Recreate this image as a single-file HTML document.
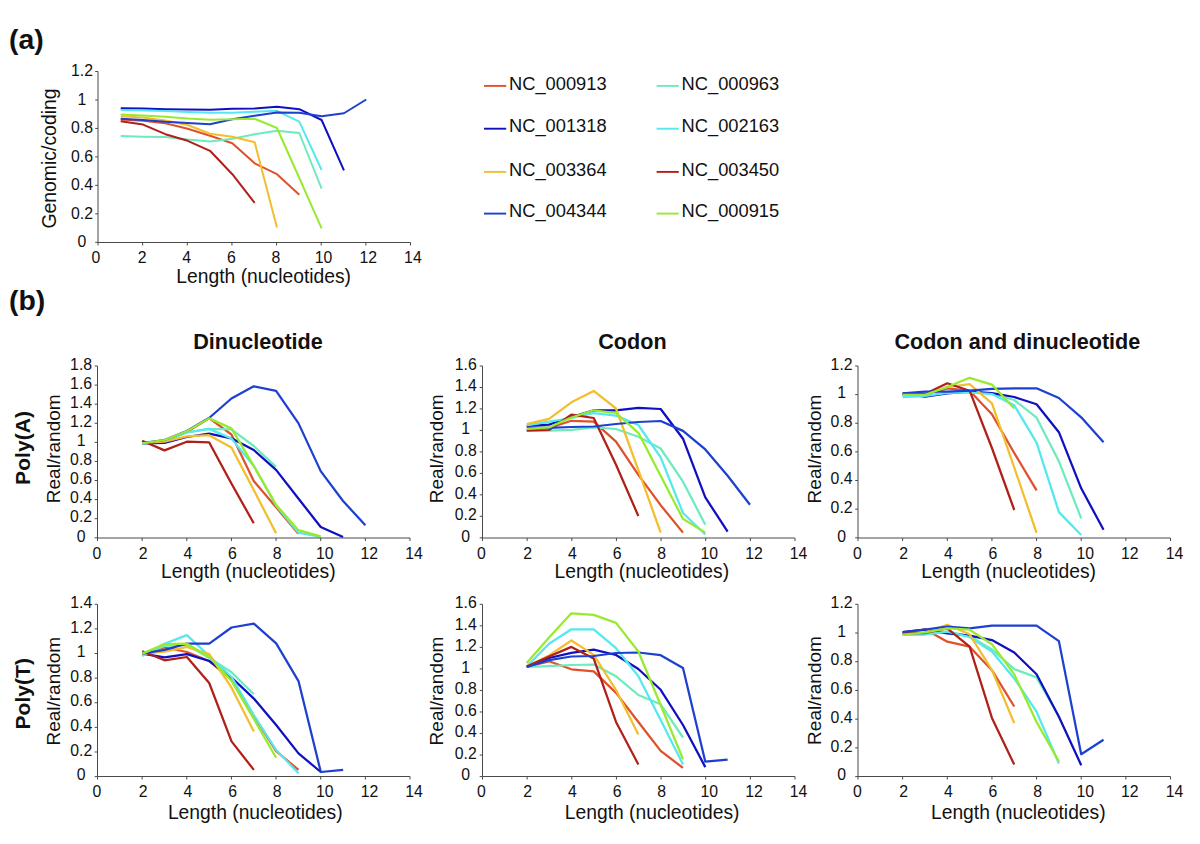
<!DOCTYPE html><html><head><meta charset="utf-8"><style>html,body{margin:0;padding:0;background:#fff;width:1200px;height:844px;overflow:hidden}svg{display:block}text{font-family:"Liberation Sans",sans-serif;fill:#111}</style></head><body>
<svg width="1200" height="844" viewBox="0 0 1200 844">
<rect width="1200" height="844" fill="#fff"/>
<polyline points="120.72,119.60 143.04,120.80 165.36,123.30 187.69,128.75 210.01,135.80 232.33,143.30 254.65,163.30 276.97,174.20 299.29,194.70" fill="none" stroke="#E0502A" stroke-width="2.0" stroke-linejoin="round"/>
<polyline points="120.72,136.00 143.04,136.70 165.36,137.00 187.69,139.60 210.01,141.50 232.33,138.75 254.65,134.20 276.97,130.80 299.29,133.00 321.61,188.70" fill="none" stroke="#6EEBBE" stroke-width="2.0" stroke-linejoin="round"/>
<polyline points="120.72,108.30 143.04,108.60 165.36,109.20 187.69,109.60 210.01,109.80 232.33,108.75 254.65,108.50 276.97,106.70 299.29,109.20 321.61,120.00 343.94,170.30" fill="none" stroke="#1010C0" stroke-width="2.0" stroke-linejoin="round"/>
<polyline points="120.72,110.00 143.04,110.40 165.36,111.00 187.69,112.00 210.01,112.70 232.33,112.70 254.65,111.70 276.97,110.80 299.29,121.70 321.61,170.00" fill="none" stroke="#55E8EE" stroke-width="2.0" stroke-linejoin="round"/>
<polyline points="120.72,116.25 143.04,117.50 165.36,120.50 187.69,125.00 210.01,133.75 232.33,136.70 254.65,142.30 276.97,227.50" fill="none" stroke="#F2BE2E" stroke-width="2.0" stroke-linejoin="round"/>
<polyline points="120.72,121.25 143.04,124.60 165.36,134.20 187.69,140.80 210.01,150.80 232.33,174.20 254.65,202.80" fill="none" stroke="#B02018" stroke-width="2.0" stroke-linejoin="round"/>
<polyline points="120.72,118.75 143.04,120.00 165.36,121.80 187.69,122.90 210.01,124.20 232.33,119.20 254.65,115.80 276.97,112.50 299.29,112.70 321.61,116.25 343.94,113.25 366.26,99.50" fill="none" stroke="#1E40D0" stroke-width="2.0" stroke-linejoin="round"/>
<polyline points="120.72,114.60 143.04,115.40 165.36,116.70 187.69,118.50 210.01,119.80 232.33,119.20 254.65,118.75 276.97,128.00 299.29,178.00 321.61,228.30" fill="none" stroke="#98EA30" stroke-width="2.0" stroke-linejoin="round"/>
<path d="M98.00 71.50V242.50H410.50M95.20 242.30H98.00M95.20 213.83H98.00M95.20 185.37H98.00M95.20 156.90H98.00M95.20 128.43H98.00M95.20 99.97H98.00M95.20 71.50H98.00M98.00 242.50V245.50M142.64 242.50V245.50M187.29 242.50V245.50M231.93 242.50V245.50M276.57 242.50V245.50M321.21 242.50V245.50M365.86 242.50V245.50M410.50 242.50V245.50" stroke="#4a4a4a" stroke-width="1" fill="none"/>
<text x="82.00" y="247.00" text-anchor="middle" font-size="15.8">0</text>
<text x="82.00" y="218.53" text-anchor="middle" font-size="15.8">0.2</text>
<text x="82.00" y="190.07" text-anchor="middle" font-size="15.8">0.4</text>
<text x="82.00" y="161.60" text-anchor="middle" font-size="15.8">0.6</text>
<text x="82.00" y="133.13" text-anchor="middle" font-size="15.8">0.8</text>
<text x="82.00" y="104.67" text-anchor="middle" font-size="15.8">1</text>
<text x="82.00" y="76.20" text-anchor="middle" font-size="15.8">1.2</text>
<text x="95.80" y="263.00" text-anchor="middle" font-size="15.8">0</text>
<text x="142.04" y="263.00" text-anchor="middle" font-size="15.8">2</text>
<text x="186.69" y="263.00" text-anchor="middle" font-size="15.8">4</text>
<text x="231.33" y="263.00" text-anchor="middle" font-size="15.8">6</text>
<text x="275.97" y="263.00" text-anchor="middle" font-size="15.8">8</text>
<text x="323.61" y="263.00" text-anchor="middle" font-size="15.8">10</text>
<text x="368.26" y="263.00" text-anchor="middle" font-size="15.8">12</text>
<text x="412.90" y="263.00" text-anchor="middle" font-size="15.8">14</text>
<polyline points="142.14,443.00 164.46,441.00 186.79,432.00 209.11,418.20 231.43,434.50 253.75,481.00 276.07,507.20 298.39,533.90" fill="none" stroke="#E0502A" stroke-width="2.25" stroke-linejoin="round"/>
<polyline points="142.14,443.30 164.46,440.80 186.79,432.50 209.11,428.90 231.43,429.30 253.75,446.00 276.07,466.70" fill="none" stroke="#6EEBBE" stroke-width="2.25" stroke-linejoin="round"/>
<polyline points="142.14,443.30 164.46,442.90 186.79,437.00 209.11,433.60 231.43,438.30 253.75,450.00 276.07,469.90 298.39,498.50 320.71,527.00 343.04,537.00" fill="none" stroke="#1010C0" stroke-width="2.25" stroke-linejoin="round"/>
<polyline points="142.14,443.30 164.46,440.50 186.79,432.50 209.11,428.90 231.43,438.50 253.75,466.00 276.07,505.50 298.39,532.70 320.71,537.00" fill="none" stroke="#55E8EE" stroke-width="2.25" stroke-linejoin="round"/>
<polyline points="142.14,443.00 164.46,441.70 186.79,436.30 209.11,435.20 231.43,447.50 253.75,490.00 276.07,533.30" fill="none" stroke="#F2BE2E" stroke-width="2.25" stroke-linejoin="round"/>
<polyline points="142.14,440.80 164.46,450.40 186.79,441.70 209.11,442.30 231.43,483.50 253.75,523.30" fill="none" stroke="#B02018" stroke-width="2.25" stroke-linejoin="round"/>
<polyline points="142.14,443.00 164.46,440.00 186.79,431.00 209.11,418.00 231.43,398.50 253.75,386.30 276.07,390.80 298.39,423.10 320.71,471.10 343.04,501.00 365.36,525.20" fill="none" stroke="#1E40D0" stroke-width="2.25" stroke-linejoin="round"/>
<polyline points="142.14,443.30 164.46,440.00 186.79,431.25 209.11,418.40 231.43,428.40 253.75,465.80 276.07,504.70 298.39,530.20 320.71,536.40" fill="none" stroke="#98EA30" stroke-width="2.25" stroke-linejoin="round"/>
<path d="M97.50 366.00V538.00H410.00M94.70 537.80H97.50M94.70 518.71H97.50M94.70 499.62H97.50M94.70 480.53H97.50M94.70 461.44H97.50M94.70 442.36H97.50M94.70 423.27H97.50M94.70 404.18H97.50M94.70 385.09H97.50M94.70 366.00H97.50M97.50 538.00V541.00M142.14 538.00V541.00M186.79 538.00V541.00M231.43 538.00V541.00M276.07 538.00V541.00M320.71 538.00V541.00M365.36 538.00V541.00M410.00 538.00V541.00" stroke="#4a4a4a" stroke-width="1" fill="none"/>
<text x="81.10" y="541.50" text-anchor="middle" font-size="15.8">0</text>
<text x="81.10" y="522.41" text-anchor="middle" font-size="15.8">0.2</text>
<text x="81.10" y="503.32" text-anchor="middle" font-size="15.8">0.4</text>
<text x="81.10" y="484.23" text-anchor="middle" font-size="15.8">0.6</text>
<text x="81.10" y="465.14" text-anchor="middle" font-size="15.8">0.8</text>
<text x="81.10" y="446.06" text-anchor="middle" font-size="15.8">1</text>
<text x="81.10" y="426.97" text-anchor="middle" font-size="15.8">1.2</text>
<text x="81.10" y="407.88" text-anchor="middle" font-size="15.8">1.4</text>
<text x="81.10" y="388.79" text-anchor="middle" font-size="15.8">1.6</text>
<text x="81.10" y="369.70" text-anchor="middle" font-size="15.8">1.8</text>
<text x="96.90" y="558.50" text-anchor="middle" font-size="15.8">0</text>
<text x="143.14" y="558.50" text-anchor="middle" font-size="15.8">2</text>
<text x="187.79" y="558.50" text-anchor="middle" font-size="15.8">4</text>
<text x="232.43" y="558.50" text-anchor="middle" font-size="15.8">6</text>
<text x="277.07" y="558.50" text-anchor="middle" font-size="15.8">8</text>
<text x="324.71" y="558.50" text-anchor="middle" font-size="15.8">10</text>
<text x="369.36" y="558.50" text-anchor="middle" font-size="15.8">12</text>
<text x="414.00" y="558.50" text-anchor="middle" font-size="15.8">14</text>
<polyline points="526.74,430.00 549.06,428.00 571.39,420.80 593.71,421.70 616.03,441.60 638.35,474.90 660.67,505.20 682.99,532.60" fill="none" stroke="#E0502A" stroke-width="2.25" stroke-linejoin="round"/>
<polyline points="526.74,430.50 549.06,430.70 571.39,429.80 593.71,427.40 616.03,429.00 638.35,436.70 660.67,448.50 682.99,481.70 705.31,524.70" fill="none" stroke="#6EEBBE" stroke-width="2.25" stroke-linejoin="round"/>
<polyline points="526.74,426.00 549.06,424.60 571.39,417.00 593.71,410.30 616.03,410.30 638.35,407.80 660.67,409.00 682.99,438.70 705.31,497.40 727.64,531.60" fill="none" stroke="#1010C0" stroke-width="2.25" stroke-linejoin="round"/>
<polyline points="526.74,425.50 549.06,421.70 571.39,418.00 593.71,413.20 616.03,415.60 638.35,425.00 660.67,457.30 682.99,513.00 705.31,534.50" fill="none" stroke="#55E8EE" stroke-width="2.25" stroke-linejoin="round"/>
<polyline points="526.74,424.10 549.06,418.90 571.39,402.30 593.71,390.90 616.03,408.50 638.35,470.20 660.67,532.60" fill="none" stroke="#F2BE2E" stroke-width="2.25" stroke-linejoin="round"/>
<polyline points="526.74,430.70 549.06,430.00 571.39,414.60 593.71,418.00 616.03,464.70 638.35,516.00" fill="none" stroke="#B02018" stroke-width="2.25" stroke-linejoin="round"/>
<polyline points="526.74,427.00 549.06,427.90 571.39,427.00 593.71,426.50 616.03,424.00 638.35,422.00 660.67,421.00 682.99,430.90 705.31,449.40 727.64,475.80 749.96,504.80" fill="none" stroke="#1E40D0" stroke-width="2.25" stroke-linejoin="round"/>
<polyline points="526.74,428.80 549.06,427.40 571.39,417.50 593.71,410.30 616.03,413.00 638.35,432.80 660.67,475.80 682.99,518.90 705.31,532.60" fill="none" stroke="#98EA30" stroke-width="2.25" stroke-linejoin="round"/>
<path d="M482.50 366.00V538.00H795.00M479.70 537.80H482.50M479.70 516.32H482.50M479.70 494.85H482.50M479.70 473.38H482.50M479.70 451.90H482.50M479.70 430.42H482.50M479.70 408.95H482.50M479.70 387.48H482.50M479.70 366.00H482.50M482.50 538.00V541.00M527.14 538.00V541.00M571.79 538.00V541.00M616.43 538.00V541.00M661.07 538.00V541.00M705.71 538.00V541.00M750.36 538.00V541.00M795.00 538.00V541.00" stroke="#4a4a4a" stroke-width="1" fill="none"/>
<text x="465.70" y="541.50" text-anchor="middle" font-size="15.8">0</text>
<text x="465.70" y="520.02" text-anchor="middle" font-size="15.8">0.2</text>
<text x="465.70" y="498.55" text-anchor="middle" font-size="15.8">0.4</text>
<text x="465.70" y="477.07" text-anchor="middle" font-size="15.8">0.6</text>
<text x="465.70" y="455.60" text-anchor="middle" font-size="15.8">0.8</text>
<text x="465.70" y="434.12" text-anchor="middle" font-size="15.8">1</text>
<text x="465.70" y="412.65" text-anchor="middle" font-size="15.8">1.2</text>
<text x="465.70" y="391.18" text-anchor="middle" font-size="15.8">1.4</text>
<text x="465.70" y="369.70" text-anchor="middle" font-size="15.8">1.6</text>
<text x="481.50" y="558.50" text-anchor="middle" font-size="15.8">0</text>
<text x="527.74" y="558.50" text-anchor="middle" font-size="15.8">2</text>
<text x="572.39" y="558.50" text-anchor="middle" font-size="15.8">4</text>
<text x="617.03" y="558.50" text-anchor="middle" font-size="15.8">6</text>
<text x="661.67" y="558.50" text-anchor="middle" font-size="15.8">8</text>
<text x="709.31" y="558.50" text-anchor="middle" font-size="15.8">10</text>
<text x="753.96" y="558.50" text-anchor="middle" font-size="15.8">12</text>
<text x="798.60" y="558.50" text-anchor="middle" font-size="15.8">14</text>
<polyline points="902.64,394.50 924.96,394.50 947.29,388.40 969.61,390.70 991.93,414.30 1014.25,453.00 1036.57,490.30" fill="none" stroke="#E0502A" stroke-width="2.25" stroke-linejoin="round"/>
<polyline points="902.64,396.00 924.96,396.00 947.29,392.50 969.61,392.00 991.93,394.00 1014.25,400.00 1036.57,417.70 1058.89,461.30 1081.21,518.30" fill="none" stroke="#6EEBBE" stroke-width="2.25" stroke-linejoin="round"/>
<polyline points="902.64,393.40 924.96,396.60 947.29,393.40 969.61,391.60 991.93,393.10 1014.25,397.00 1036.57,404.20 1058.89,432.20 1081.21,488.30 1103.54,529.80" fill="none" stroke="#1010C0" stroke-width="2.25" stroke-linejoin="round"/>
<polyline points="902.64,397.10 924.96,396.00 947.29,393.00 969.61,392.50 991.93,394.00 1014.25,405.30 1036.57,442.60 1058.89,512.10 1081.21,535.00" fill="none" stroke="#55E8EE" stroke-width="2.25" stroke-linejoin="round"/>
<polyline points="902.64,394.50 924.96,394.50 947.29,387.00 969.61,384.20 991.93,403.30 1014.25,467.50 1036.57,532.90" fill="none" stroke="#F2BE2E" stroke-width="2.25" stroke-linejoin="round"/>
<polyline points="902.64,394.00 924.96,394.00 947.29,383.30 969.61,390.70 991.93,448.00 1014.25,510.00" fill="none" stroke="#B02018" stroke-width="2.25" stroke-linejoin="round"/>
<polyline points="902.64,393.40 924.96,391.60 947.29,391.60 969.61,390.70 991.93,388.80 1014.25,388.30 1036.57,388.30 1058.89,398.00 1081.21,417.30 1103.54,442.20" fill="none" stroke="#1E40D0" stroke-width="2.25" stroke-linejoin="round"/>
<polyline points="902.64,394.80 924.96,394.80 947.29,387.00 969.61,377.80 991.93,384.60 1014.25,408.40" fill="none" stroke="#98EA30" stroke-width="2.25" stroke-linejoin="round"/>
<path d="M858.00 366.00V538.00H1170.50M855.20 537.80H858.00M855.20 509.17H858.00M855.20 480.53H858.00M855.20 451.90H858.00M855.20 423.27H858.00M855.20 394.63H858.00M855.20 366.00H858.00M858.00 538.00V541.00M902.64 538.00V541.00M947.29 538.00V541.00M991.93 538.00V541.00M1036.57 538.00V541.00M1081.21 538.00V541.00M1125.86 538.00V541.00M1170.50 538.00V541.00" stroke="#4a4a4a" stroke-width="1" fill="none"/>
<text x="841.60" y="541.50" text-anchor="middle" font-size="15.8">0</text>
<text x="841.60" y="512.87" text-anchor="middle" font-size="15.8">0.2</text>
<text x="841.60" y="484.23" text-anchor="middle" font-size="15.8">0.4</text>
<text x="841.60" y="455.60" text-anchor="middle" font-size="15.8">0.6</text>
<text x="841.60" y="426.97" text-anchor="middle" font-size="15.8">0.8</text>
<text x="841.60" y="398.33" text-anchor="middle" font-size="15.8">1</text>
<text x="841.60" y="369.70" text-anchor="middle" font-size="15.8">1.2</text>
<text x="857.40" y="558.50" text-anchor="middle" font-size="15.8">0</text>
<text x="903.64" y="558.50" text-anchor="middle" font-size="15.8">2</text>
<text x="948.29" y="558.50" text-anchor="middle" font-size="15.8">4</text>
<text x="992.93" y="558.50" text-anchor="middle" font-size="15.8">6</text>
<text x="1037.57" y="558.50" text-anchor="middle" font-size="15.8">8</text>
<text x="1085.21" y="558.50" text-anchor="middle" font-size="15.8">10</text>
<text x="1129.86" y="558.50" text-anchor="middle" font-size="15.8">12</text>
<text x="1174.50" y="558.50" text-anchor="middle" font-size="15.8">14</text>
<polyline points="142.24,653.00 164.56,647.50 186.89,652.00 209.21,661.00 231.53,680.00 253.85,716.00 276.17,751.20 298.49,769.90" fill="none" stroke="#E0502A" stroke-width="2.25" stroke-linejoin="round"/>
<polyline points="142.24,654.50 164.56,646.00 186.89,645.00 209.21,658.00 231.53,672.30 253.85,694.20" fill="none" stroke="#6EEBBE" stroke-width="2.25" stroke-linejoin="round"/>
<polyline points="142.24,653.60 164.56,657.40 186.89,654.10 209.21,661.00 231.53,677.50 253.85,698.60 276.17,725.00 298.49,753.40 320.81,772.00" fill="none" stroke="#1010C0" stroke-width="2.25" stroke-linejoin="round"/>
<polyline points="142.24,656.00 164.56,643.70 186.89,635.10 209.21,656.00 231.53,677.00 253.85,715.00 276.17,750.00 298.49,773.20" fill="none" stroke="#55E8EE" stroke-width="2.25" stroke-linejoin="round"/>
<polyline points="142.24,653.60 164.56,651.70 186.89,647.00 209.21,654.10 231.53,687.70 253.85,731.50" fill="none" stroke="#F2BE2E" stroke-width="2.25" stroke-linejoin="round"/>
<polyline points="142.24,651.30 164.56,660.30 186.89,657.00 209.21,683.00 231.53,741.40 253.85,769.90" fill="none" stroke="#B02018" stroke-width="2.25" stroke-linejoin="round"/>
<polyline points="142.24,653.60 164.56,649.80 186.89,643.70 209.21,643.70 231.53,627.50 253.85,623.70 276.17,643.40 298.49,681.10 320.81,772.00 343.14,769.90" fill="none" stroke="#1E40D0" stroke-width="2.25" stroke-linejoin="round"/>
<polyline points="142.24,653.60 164.56,644.10 186.89,643.70 209.21,657.00 231.53,681.00 253.85,719.00 276.17,757.80" fill="none" stroke="#98EA30" stroke-width="2.25" stroke-linejoin="round"/>
<path d="M97.50 604.30V776.50H410.00M94.70 776.60H97.50M94.70 751.99H97.50M94.70 727.37H97.50M94.70 702.76H97.50M94.70 678.14H97.50M94.70 653.53H97.50M94.70 628.91H97.50M94.70 604.30H97.50M97.50 776.50V779.50M142.14 776.50V779.50M186.79 776.50V779.50M231.43 776.50V779.50M276.07 776.50V779.50M320.71 776.50V779.50M365.36 776.50V779.50M410.00 776.50V779.50" stroke="#4a4a4a" stroke-width="1" fill="none"/>
<text x="81.20" y="780.30" text-anchor="middle" font-size="15.8">0</text>
<text x="81.20" y="755.69" text-anchor="middle" font-size="15.8">0.2</text>
<text x="81.20" y="731.07" text-anchor="middle" font-size="15.8">0.4</text>
<text x="81.20" y="706.46" text-anchor="middle" font-size="15.8">0.6</text>
<text x="81.20" y="681.84" text-anchor="middle" font-size="15.8">0.8</text>
<text x="81.20" y="657.23" text-anchor="middle" font-size="15.8">1</text>
<text x="81.20" y="632.61" text-anchor="middle" font-size="15.8">1.2</text>
<text x="81.20" y="608.00" text-anchor="middle" font-size="15.8">1.4</text>
<text x="97.00" y="797.30" text-anchor="middle" font-size="15.8">0</text>
<text x="143.24" y="797.30" text-anchor="middle" font-size="15.8">2</text>
<text x="187.89" y="797.30" text-anchor="middle" font-size="15.8">4</text>
<text x="232.53" y="797.30" text-anchor="middle" font-size="15.8">6</text>
<text x="277.17" y="797.30" text-anchor="middle" font-size="15.8">8</text>
<text x="324.81" y="797.30" text-anchor="middle" font-size="15.8">10</text>
<text x="369.46" y="797.30" text-anchor="middle" font-size="15.8">12</text>
<text x="414.10" y="797.30" text-anchor="middle" font-size="15.8">14</text>
<polyline points="526.74,666.60 549.06,661.30 571.39,669.30 593.71,671.40 616.03,692.90 638.35,722.00 660.67,750.90 682.99,767.90" fill="none" stroke="#E0502A" stroke-width="2.25" stroke-linejoin="round"/>
<polyline points="526.74,667.00 549.06,666.10 571.39,665.00 593.71,664.50 616.03,676.30 638.35,695.00 660.67,704.30 682.99,737.50" fill="none" stroke="#6EEBBE" stroke-width="2.25" stroke-linejoin="round"/>
<polyline points="526.74,667.00 549.06,658.00 571.39,652.80 593.71,649.60 616.03,655.00 638.35,669.00 660.67,689.80 682.99,725.00 705.31,767.10" fill="none" stroke="#1010C0" stroke-width="2.25" stroke-linejoin="round"/>
<polyline points="526.74,666.60 549.06,643.70 571.39,629.30 593.71,629.30 616.03,648.20 638.35,676.30 660.67,720.00 682.99,764.40" fill="none" stroke="#55E8EE" stroke-width="2.25" stroke-linejoin="round"/>
<polyline points="526.74,666.60 549.06,655.40 571.39,640.50 593.71,654.90 616.03,690.00 638.35,734.40" fill="none" stroke="#F2BE2E" stroke-width="2.25" stroke-linejoin="round"/>
<polyline points="526.74,666.60 549.06,656.50 571.39,646.90 593.71,658.60 616.03,721.90 638.35,764.40" fill="none" stroke="#B02018" stroke-width="2.25" stroke-linejoin="round"/>
<polyline points="526.74,667.00 549.06,660.20 571.39,656.50 593.71,656.00 616.03,653.00 638.35,652.50 660.67,655.20 682.99,668.00 705.31,761.70 727.64,759.60" fill="none" stroke="#1E40D0" stroke-width="2.25" stroke-linejoin="round"/>
<polyline points="526.74,662.90 549.06,637.50 571.39,613.30 593.71,614.90 616.03,622.90 638.35,651.50 660.67,705.00 682.99,759.20" fill="none" stroke="#98EA30" stroke-width="2.25" stroke-linejoin="round"/>
<path d="M482.50 604.30V776.50H795.00M479.70 776.60H482.50M479.70 755.06H482.50M479.70 733.52H482.50M479.70 711.99H482.50M479.70 690.45H482.50M479.70 668.91H482.50M479.70 647.38H482.50M479.70 625.84H482.50M479.70 604.30H482.50M482.50 776.50V779.50M527.14 776.50V779.50M571.79 776.50V779.50M616.43 776.50V779.50M661.07 776.50V779.50M705.71 776.50V779.50M750.36 776.50V779.50M795.00 776.50V779.50" stroke="#4a4a4a" stroke-width="1" fill="none"/>
<text x="465.70" y="780.30" text-anchor="middle" font-size="15.8">0</text>
<text x="465.70" y="758.76" text-anchor="middle" font-size="15.8">0.2</text>
<text x="465.70" y="737.23" text-anchor="middle" font-size="15.8">0.4</text>
<text x="465.70" y="715.69" text-anchor="middle" font-size="15.8">0.6</text>
<text x="465.70" y="694.15" text-anchor="middle" font-size="15.8">0.8</text>
<text x="465.70" y="672.61" text-anchor="middle" font-size="15.8">1</text>
<text x="465.70" y="651.08" text-anchor="middle" font-size="15.8">1.2</text>
<text x="465.70" y="629.54" text-anchor="middle" font-size="15.8">1.4</text>
<text x="465.70" y="608.00" text-anchor="middle" font-size="15.8">1.6</text>
<text x="481.50" y="797.30" text-anchor="middle" font-size="15.8">0</text>
<text x="527.74" y="797.30" text-anchor="middle" font-size="15.8">2</text>
<text x="572.39" y="797.30" text-anchor="middle" font-size="15.8">4</text>
<text x="617.03" y="797.30" text-anchor="middle" font-size="15.8">6</text>
<text x="661.67" y="797.30" text-anchor="middle" font-size="15.8">8</text>
<text x="709.31" y="797.30" text-anchor="middle" font-size="15.8">10</text>
<text x="753.96" y="797.30" text-anchor="middle" font-size="15.8">12</text>
<text x="798.60" y="797.30" text-anchor="middle" font-size="15.8">14</text>
<polyline points="902.64,633.50 924.96,629.30 947.29,641.70 969.61,646.70 991.93,670.20 1014.25,706.50" fill="none" stroke="#E0502A" stroke-width="2.25" stroke-linejoin="round"/>
<polyline points="902.64,634.50 924.96,634.30 947.29,631.60 969.61,636.00 991.93,649.40 1014.25,669.10 1036.57,677.40 1058.89,716.50" fill="none" stroke="#6EEBBE" stroke-width="2.25" stroke-linejoin="round"/>
<polyline points="902.64,632.00 924.96,629.70 947.29,633.40 969.61,635.70 991.93,640.10 1014.25,652.50 1036.57,674.30 1058.89,716.80 1081.21,765.20" fill="none" stroke="#1010C0" stroke-width="2.25" stroke-linejoin="round"/>
<polyline points="902.64,635.00 924.96,634.30 947.29,631.60 969.61,637.10 991.93,651.50 1014.25,678.50 1036.57,711.70 1058.89,763.50" fill="none" stroke="#55E8EE" stroke-width="2.25" stroke-linejoin="round"/>
<polyline points="902.64,633.50 924.96,632.00 947.29,624.70 969.61,634.30 991.93,670.00 1014.25,723.10" fill="none" stroke="#F2BE2E" stroke-width="2.25" stroke-linejoin="round"/>
<polyline points="902.64,633.00 924.96,633.00 947.29,628.40 969.61,646.70 991.93,717.90 1014.25,764.60" fill="none" stroke="#B02018" stroke-width="2.25" stroke-linejoin="round"/>
<polyline points="902.64,632.00 924.96,629.70 947.29,626.50 969.61,628.40 991.93,625.60 1014.25,625.60 1036.57,625.60 1058.89,641.10 1081.21,754.20 1103.54,739.70" fill="none" stroke="#1E40D0" stroke-width="2.25" stroke-linejoin="round"/>
<polyline points="902.64,634.50 924.96,632.50 947.29,628.40 969.61,629.70 991.93,644.20 1014.25,674.30 1036.57,722.00 1058.89,761.50" fill="none" stroke="#98EA30" stroke-width="2.25" stroke-linejoin="round"/>
<path d="M858.00 604.30V776.50H1170.50M855.20 776.60H858.00M855.20 747.88H858.00M855.20 719.17H858.00M855.20 690.45H858.00M855.20 661.73H858.00M855.20 633.02H858.00M855.20 604.30H858.00M858.00 776.50V779.50M902.64 776.50V779.50M947.29 776.50V779.50M991.93 776.50V779.50M1036.57 776.50V779.50M1081.21 776.50V779.50M1125.86 776.50V779.50M1170.50 776.50V779.50" stroke="#4a4a4a" stroke-width="1" fill="none"/>
<text x="841.60" y="780.30" text-anchor="middle" font-size="15.8">0</text>
<text x="841.60" y="751.58" text-anchor="middle" font-size="15.8">0.2</text>
<text x="841.60" y="722.87" text-anchor="middle" font-size="15.8">0.4</text>
<text x="841.60" y="694.15" text-anchor="middle" font-size="15.8">0.6</text>
<text x="841.60" y="665.43" text-anchor="middle" font-size="15.8">0.8</text>
<text x="841.60" y="636.72" text-anchor="middle" font-size="15.8">1</text>
<text x="841.60" y="608.00" text-anchor="middle" font-size="15.8">1.2</text>
<text x="857.40" y="797.30" text-anchor="middle" font-size="15.8">0</text>
<text x="903.64" y="797.30" text-anchor="middle" font-size="15.8">2</text>
<text x="948.29" y="797.30" text-anchor="middle" font-size="15.8">4</text>
<text x="992.93" y="797.30" text-anchor="middle" font-size="15.8">6</text>
<text x="1037.57" y="797.30" text-anchor="middle" font-size="15.8">8</text>
<text x="1085.21" y="797.30" text-anchor="middle" font-size="15.8">10</text>
<text x="1129.86" y="797.30" text-anchor="middle" font-size="15.8">12</text>
<text x="1174.50" y="797.30" text-anchor="middle" font-size="15.8">14</text>
<text x="9" y="48.8" font-size="28.4" font-weight="bold">(a)</text>
<text x="9" y="310.4" font-size="28.4" font-weight="bold">(b)</text>
<text x="258.05" y="348.70" text-anchor="middle" font-size="21.6" font-weight="bold">Dinucleotide</text>
<text x="632.45" y="348.70" text-anchor="middle" font-size="21.6" font-weight="bold">Codon</text>
<text x="1017.35" y="348.70" text-anchor="middle" font-size="21.6" font-weight="bold">Codon and dinucleotide</text>
<text x="263.70" y="283.20" text-anchor="middle" font-size="19.3">Length (nucleotides)</text>
<text x="248.30" y="578.30" text-anchor="middle" font-size="19.3">Length (nucleotides)</text>
<text x="641.80" y="578.30" text-anchor="middle" font-size="19.3">Length (nucleotides)</text>
<text x="1008.60" y="578.30" text-anchor="middle" font-size="19.3">Length (nucleotides)</text>
<text x="255.25" y="819.00" text-anchor="middle" font-size="19.3">Length (nucleotides)</text>
<text x="652.10" y="819.00" text-anchor="middle" font-size="19.3">Length (nucleotides)</text>
<text x="1018.30" y="819.00" text-anchor="middle" font-size="19.3">Length (nucleotides)</text>
<text transform="translate(55.80,158.50) rotate(-90)" x="0" y="0" text-anchor="middle" font-size="19.4">Genomic/coding</text>
<text transform="translate(59.70,448.80) rotate(-90)" x="0" y="0" text-anchor="middle" font-size="19.0">Real/random</text>
<text transform="translate(442.80,448.80) rotate(-90)" x="0" y="0" text-anchor="middle" font-size="19.0">Real/random</text>
<text transform="translate(820.50,449.00) rotate(-90)" x="0" y="0" text-anchor="middle" font-size="19.0">Real/random</text>
<text transform="translate(59.70,691.20) rotate(-90)" x="0" y="0" text-anchor="middle" font-size="19.0">Real/random</text>
<text transform="translate(442.80,691.00) rotate(-90)" x="0" y="0" text-anchor="middle" font-size="19.0">Real/random</text>
<text transform="translate(820.50,690.50) rotate(-90)" x="0" y="0" text-anchor="middle" font-size="19.0">Real/random</text>
<text transform="translate(30.20,448.00) rotate(-90)" x="0" y="0" text-anchor="middle" font-size="21.1" font-weight="bold">Poly(A)</text>
<text transform="translate(30.20,693.80) rotate(-90)" x="0" y="0" text-anchor="middle" font-size="21.1" font-weight="bold">Poly(T)</text>
<line x1="484.00" y1="85.90" x2="506.20" y2="85.90" stroke="#E0502A" stroke-width="1.9"/>
<text x="509.00" y="89.50" font-size="18.3">NC_000913</text>
<line x1="484.00" y1="128.70" x2="506.20" y2="128.70" stroke="#1010C0" stroke-width="1.9"/>
<text x="509.00" y="132.30" font-size="18.3">NC_001318</text>
<line x1="484.00" y1="171.90" x2="506.20" y2="171.90" stroke="#F2BE2E" stroke-width="1.9"/>
<text x="509.00" y="175.50" font-size="18.3">NC_003364</text>
<line x1="484.00" y1="213.60" x2="506.20" y2="213.60" stroke="#1E40D0" stroke-width="1.9"/>
<text x="509.00" y="217.20" font-size="18.3">NC_004344</text>
<line x1="656.60" y1="85.90" x2="678.80" y2="85.90" stroke="#6EEBBE" stroke-width="1.9"/>
<text x="681.60" y="89.50" font-size="18.3">NC_000963</text>
<line x1="656.60" y1="128.70" x2="678.80" y2="128.70" stroke="#55E8EE" stroke-width="1.9"/>
<text x="681.60" y="132.30" font-size="18.3">NC_002163</text>
<line x1="656.60" y1="171.90" x2="678.80" y2="171.90" stroke="#B02018" stroke-width="1.9"/>
<text x="681.60" y="175.50" font-size="18.3">NC_003450</text>
<line x1="656.60" y1="213.60" x2="678.80" y2="213.60" stroke="#98EA30" stroke-width="1.9"/>
<text x="681.60" y="217.20" font-size="18.3">NC_000915</text>
</svg></body></html>
